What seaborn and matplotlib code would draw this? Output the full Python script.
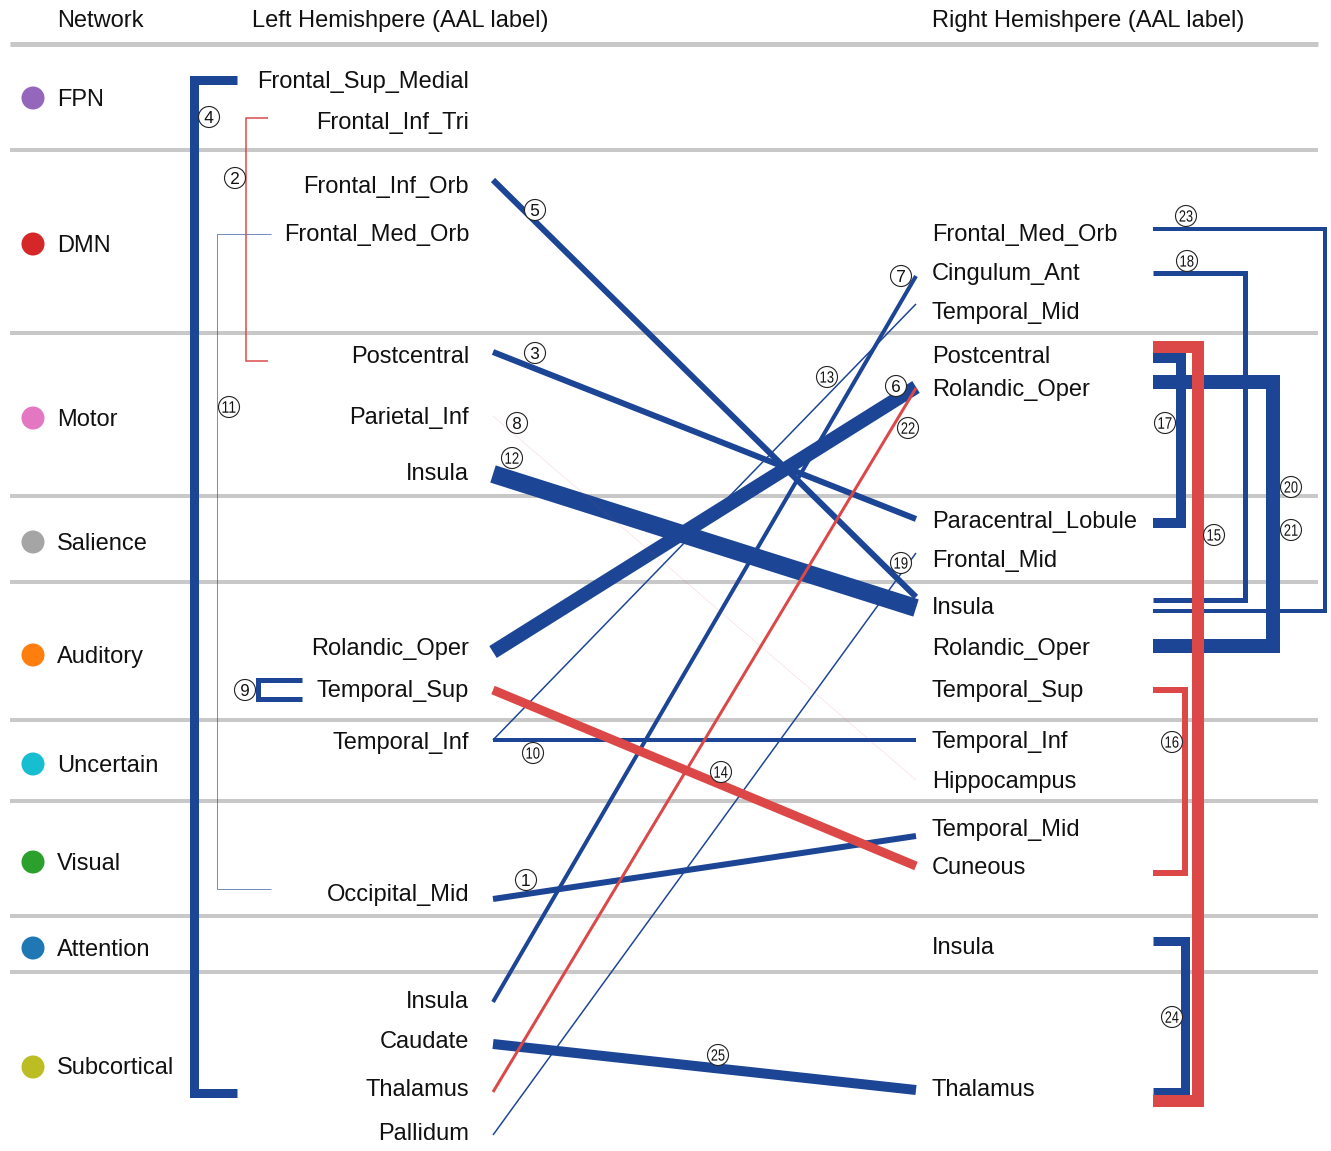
import numpy as np
import pandas as pd
import matplotlib
matplotlib.use("Agg")
import matplotlib.pyplot as plt
import seaborn as sns
from matplotlib.textpath import TextPath
from matplotlib.font_manager import FontProperties
from matplotlib.patches import PathPatch, Circle
from matplotlib.transforms import Affine2D

# ------------------------------------------------------------------ data
networks = ["FPN", "DMN", "Motor", "Salience", "Auditory", "Uncertain",
            "Visual", "Attention", "Subcortical"]
network_colors = ["#9467bd", "#d62728", "#e377c2", "#a5a5a5", "#ff7f0e",
                  "#17becf", "#2ca02c", "#1f77b4", "#bcbd22"]

left_regions = ["Frontal_Sup_Medial", "Frontal_Inf_Tri", "Frontal_Inf_Orb",
                "Frontal_Med_Orb", "Postcentral", "Parietal_Inf", "Insula",
                "Rolandic_Oper", "Temporal_Sup", "Temporal_Inf", "Occipital_Mid",
                "Insula", "Caudate", "Thalamus", "Pallidum"]
right_regions = ["Frontal_Med_Orb", "Cingulum_Ant", "Temporal_Mid", "Postcentral",
                 "Rolandic_Oper", "Paracentral_Lobule", "Frontal_Mid", "Insula",
                 "Rolandic_Oper", "Temporal_Sup", "Temporal_Inf", "Hippocampus",
                 "Temporal_Mid", "Cuneous", "Insula", "Thalamus"]

headers = ["Network", "Left Hemishpere (AAL label)", "Right Hemishpere (AAL label)"]

# inter-hemisphere connections (left index -> right index)
inter_ids = [1, 3, 5, 6, 7, 8, 10, 12, 13, 14, 19, 22, 25]
inter_left = [10, 4, 2, 7, 11, 5, 9, 6, 9, 8, 14, 13, 12]
inter_right = [12, 5, 7, 4, 1, 11, 10, 7, 2, 13, 6, 4, 15]
inter_strength = [6, 6, 6, 14, 4, 0.6, 4, 18, 1.5, 9, 1.5, 3, 10]
inter_sign = [1, 1, 1, 1, 1, -1, 1, 1, 1, -1, 1, -1, 1]

# intra-hemisphere connections, left side
left_intra_ids = [4, 2, 11, 9]
left_intra_a = [0, 1, 3, 8]
left_intra_b = [13, 4, 10, 8]
left_intra_strength = [9, 1.5, 1.0, 5]
left_intra_sign = [1, -1, 1, 1]

# intra-hemisphere connections, right side
right_intra_ids = [23, 18, 20, 21, 17, 24, 16, 15]
right_intra_a = [0, 1, 4, 4, 3, 14, 9, 3]
right_intra_b = [7, 7, 8, 8, 5, 15, 13, 15]
right_intra_strength = [4, 5, 14, 14, 10, 9, 6, 12]
right_intra_sign = [1, 1, 1, 1, 1, 1, -1, -1]

# ------------------------------------------------------------------ layout (pixels)
W, H = 1331, 1151
band_lines = [44, 150, 333, 496, 582, 720, 801, 916, 972]
network_y = [98, 244, 418, 542, 655, 764, 862, 948, 1067]
left_y = [80, 121, 185, 233, 355, 416, 472, 647, 689, 741, 893, 1000, 1041, 1089, 1133]
right_y = [233, 272, 311, 355, 388, 520, 559, 606, 647, 689, 740, 780, 828, 866, 946, 1089]
left_text_x, right_text_x = 469, 932
left_line_x, right_line_x = 493, 916
inter_dy_left = [6, -3, -5, 5, 2, 0, -1, 2, -1, 1, 2, 3, 3]
inter_dy_right = [8, -1, -9, -1, 4, 0, 0, 2, -7, 0, -6, 0, 1]
left_arm_x = [237, 268, 271, 302]
left_spine_x = [194, 246, 217, 258]
left_arm_dy = [(0, 4), (-3, 6), (1, -4), (-9.5, 9.5)]
right_arm_x = 1153
right_spine_x = [1325, 1244.5, 1273, 1273, 1181, 1185, 1185, 1198]
right_arm_dy = [(-4, 5), (1, -6.5), (-6, -1), (-6, -1), (3, 3), (-5, 3), (1, 7), (-8, 12)]
badge_pos = {1: (526, 880), 2: (235, 178), 3: (535, 353), 4: (209, 117),
             5: (535, 210), 6: (896, 386), 7: (901, 276), 8: (517, 423),
             9: (245, 690), 10: (533, 753), 11: (229, 407), 12: (512, 458),
             13: (827, 377), 14: (721, 772), 15: (1214, 535), 16: (1172, 742),
             17: (1165, 423), 18: (1187, 261), 19: (901, 563), 20: (1291, 487),
             21: (1291, 530), 22: (908, 428), 23: (1186, 216), 24: (1172, 1017),
             25: (718, 1055)}

BLUE, RED = "#1c4595", "#dc4848"
PX = 0.72  # px -> pt at dpi 100

sns.set_theme(style="white")
plt.rcParams["font.family"] = ["Liberation Sans", "DejaVu Sans"]

fig = plt.figure(figsize=(W / 100, H / 100), dpi=100)
ax = fig.add_axes([0, 0, 1, 1])


def color_of(sign):
    return BLUE if sign > 0 else RED


def alpha_of(w):
    return float(np.clip((w - 0.4) / 1.0, 0.15, 1.0))


# separators
ax.hlines(band_lines[0], 10, 1318, color="#c8c8c8", lw=5 * PX, zorder=1)
ax.hlines(band_lines[1:], 10, 1318, color="#c8c8c8", lw=4 * PX, zorder=1)

# headers
ax.text(57, 27, headers[0], fontsize=17, ha="left", va="baseline", color="#111")
ax.text(252, 27, headers[1], fontsize=17, ha="left", va="baseline", color="#111")
ax.text(932, 27, headers[2], fontsize=17, ha="left", va="baseline", color="#111")

# networks
net_df = pd.DataFrame({"x": [33] * len(networks), "y": network_y, "network": networks})
sns.scatterplot(data=net_df, x="x", y="y", hue="network", palette=network_colors,
                s=275, linewidth=0, legend=False, ax=ax, zorder=5)
for name, y in zip(networks, network_y):
    ax.text(57, y + 7.5, name, fontsize=17, ha="left", va="baseline", color="#111")

# region labels
for name, y in zip(left_regions, left_y):
    ax.text(left_text_x, y + 7.5, name, fontsize=17, ha="right", va="baseline", color="#111")
for name, y in zip(right_regions, right_y):
    ax.text(right_text_x, y + 7.5, name, fontsize=17, ha="left", va="baseline", color="#111")

# left brackets
for i in range(len(left_intra_ids)):
    ya = left_y[left_intra_a[i]] + left_arm_dy[i][0]
    yb = left_y[left_intra_b[i]] + left_arm_dy[i][1]
    xs = [left_arm_x[i], left_spine_x[i], left_spine_x[i], left_arm_x[i]]
    w = left_intra_strength[i]
    ax.plot(xs, [ya, ya, yb, yb], color=color_of(left_intra_sign[i]), lw=w * PX,
            alpha=alpha_of(w), solid_joinstyle="miter", solid_capstyle="butt",
            zorder=3 if left_intra_sign[i] > 0 else 4)

# inter-hemisphere lines
order = sorted(range(len(inter_ids)), key=lambda k: inter_sign[k], reverse=True)
for k in order:
    y0 = left_y[inter_left[k]] + inter_dy_left[k]
    y1 = right_y[inter_right[k]] + inter_dy_right[k]
    w = inter_strength[k]
    ax.plot([left_line_x, right_line_x], [y0, y1], color=color_of(inter_sign[k]),
            lw=w * PX, alpha=alpha_of(w), solid_capstyle="butt",
            zorder=3 if inter_sign[k] > 0 else 4)

# right brackets
for i in range(len(right_intra_ids)):
    ya = right_y[right_intra_a[i]] + right_arm_dy[i][0]
    yb = right_y[right_intra_b[i]] + right_arm_dy[i][1]
    xs = [right_arm_x, right_spine_x[i], right_spine_x[i], right_arm_x]
    w = right_intra_strength[i]
    ax.plot(xs, [ya, ya, yb, yb], color=color_of(right_intra_sign[i]), lw=w * PX,
            alpha=alpha_of(w), solid_joinstyle="miter", solid_capstyle="butt",
            zorder=3 if right_intra_sign[i] > 0 else 4)

# circled connection numbers
fp = FontProperties(family="Liberation Sans")
for num, (cx, cy) in badge_pos.items():
    ax.add_patch(Circle((cx, cy), 10.5, facecolor="white", edgecolor="#222",
                        lw=0.8, zorder=8))
    tp = TextPath((0, 0), str(num), size=1, prop=fp)
    bb = tp.get_extents()
    sy = 12.0 / bb.height if len(str(num)) == 1 else 11.5 / bb.height
    sx = sy if len(str(num)) == 1 else min(sy, 13.0 / bb.width)
    tr = (Affine2D().translate(-(bb.x0 + bb.width / 2), -(bb.y0 + bb.height / 2))
          .scale(sx, -sy).translate(cx, cy))
    ax.add_patch(PathPatch(tr.transform_path(tp), facecolor="#111",
                           edgecolor="none", zorder=9))

ax.set_xlim(0, W)
ax.set_ylim(H, 0)
ax.axis("off")
fig.savefig("out.png", dpi=100, facecolor="white")
